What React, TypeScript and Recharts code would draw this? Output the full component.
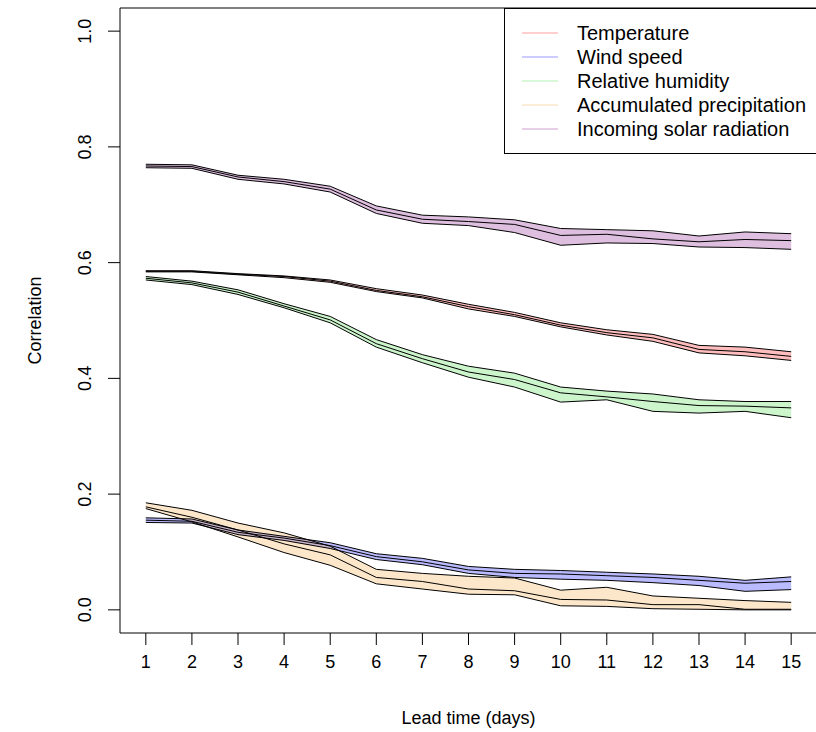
import React from 'react';
import { ComposedChart, Area, Line, XAxis, YAxis, ReferenceArea } from 'recharts';

// lead time in days
const leadTimes = [1, 2, 3, 4, 5, 6, 7, 8, 9, 10, 11, 12, 13, 14, 15];

// correlation bands: lower edge, middle line, upper edge
const tempLower = [0.584, 0.584, 0.579, 0.574, 0.566, 0.550, 0.539, 0.520, 0.507, 0.489, 0.475, 0.464, 0.444, 0.439, 0.431];
const tempMid = [0.585, 0.585, 0.580, 0.576, 0.568, 0.552, 0.541, 0.524, 0.510, 0.492, 0.479, 0.470, 0.450, 0.446, 0.438];
const tempUpper = [0.586, 0.586, 0.581, 0.577, 0.570, 0.555, 0.544, 0.528, 0.514, 0.496, 0.484, 0.476, 0.457, 0.454, 0.446];

const windLower = [0.151, 0.150, 0.130, 0.120, 0.106, 0.087, 0.078, 0.063, 0.056, 0.053, 0.051, 0.047, 0.042, 0.032, 0.035];
const windMid = [0.155, 0.153, 0.134, 0.124, 0.111, 0.092, 0.083, 0.069, 0.063, 0.062, 0.059, 0.056, 0.051, 0.046, 0.049];
const windUpper = [0.159, 0.157, 0.138, 0.127, 0.116, 0.097, 0.089, 0.075, 0.070, 0.068, 0.065, 0.062, 0.058, 0.051, 0.057];

const humLower = [0.570, 0.562, 0.545, 0.522, 0.496, 0.454, 0.427, 0.402, 0.385, 0.359, 0.363, 0.343, 0.340, 0.343, 0.332];
const humMid = [0.573, 0.565, 0.549, 0.525, 0.501, 0.460, 0.434, 0.411, 0.398, 0.375, 0.368, 0.360, 0.353, 0.352, 0.349];
const humUpper = [0.576, 0.568, 0.553, 0.529, 0.507, 0.467, 0.441, 0.421, 0.409, 0.385, 0.378, 0.373, 0.363, 0.360, 0.360];

const precLower = [0.175, 0.152, 0.126, 0.099, 0.077, 0.045, 0.036, 0.027, 0.026, 0.007, 0.006, 0.002, 0.001, 0.000, 0.000];
const precMid = [0.178, 0.160, 0.138, 0.114, 0.095, 0.056, 0.049, 0.036, 0.033, 0.018, 0.017, 0.009, 0.009, 0.001, 0.001];
const precUpper = [0.185, 0.172, 0.150, 0.133, 0.110, 0.070, 0.063, 0.058, 0.055, 0.034, 0.039, 0.024, 0.020, 0.016, 0.013];

const solarLower = [0.764, 0.763, 0.744, 0.736, 0.722, 0.685, 0.668, 0.664, 0.652, 0.630, 0.634, 0.633, 0.627, 0.626, 0.623];
const solarMid = [0.767, 0.766, 0.748, 0.740, 0.727, 0.691, 0.675, 0.671, 0.666, 0.647, 0.649, 0.641, 0.636, 0.640, 0.638];
const solarUpper = [0.770, 0.769, 0.751, 0.744, 0.732, 0.698, 0.682, 0.679, 0.674, 0.659, 0.657, 0.655, 0.646, 0.653, 0.650];

const yTicks = [0, 0.2, 0.4, 0.6, 0.8, 1.0];

const series = [
  { key: 'temp', name: 'Temperature', color: '#ff0000', opacity: 0.26, lower: tempLower, mid: tempMid, upper: tempUpper },
  { key: 'wind', name: 'Wind speed', color: '#0000ff', opacity: 0.27, lower: windLower, mid: windMid, upper: windUpper },
  { key: 'hum', name: 'Relative humidity', color: '#00cc00', opacity: 0.2, lower: humLower, mid: humMid, upper: humUpper },
  { key: 'prec', name: 'Accumulated precipitation', color: '#f5a030', opacity: 0.25, lower: precLower, mid: precMid, upper: precUpper },
  { key: 'solar', name: 'Incoming solar radiation', color: '#800080', opacity: 0.25, lower: solarLower, mid: solarMid, upper: solarUpper },
];

const rows = leadTimes.map((t, i) => {
  const row: Record<string, number> = { lead: t };
  series.forEach((s) => {
    row[s.key + 'Lo'] = s.lower[i];
    row[s.key + 'Mid'] = s.mid[i];
    row[s.key + 'Hi'] = s.upper[i];
  });
  return row;
});

const FONT = '"Liberation Sans", Arial, Helvetica, sans-serif';

const rgba = (hex: string, a: number) => {
  const r = parseInt(hex.slice(1, 3), 16);
  const g = parseInt(hex.slice(3, 5), 16);
  const b = parseInt(hex.slice(5, 7), 16);
  return `rgba(${r},${g},${b},${a})`;
};

const YTick = (props: any) => {
  const { x, y, payload } = props;
  return (
    <text x={x} y={y} transform={`rotate(-90 ${x} ${y})`} textAnchor="middle" fontSize={18} fill="#000" fontFamily={FONT}>
      {Number(payload.value).toFixed(1)}
    </text>
  );
};

// legend drawn in its own box over the top right corner of the plot
const LegendBox = () => (
  <svg width={313} height={147} style={{ position: 'absolute', left: 504, top: 8, display: 'block' }}>
    <rect x={0.5} y={0.5} width={330} height={145} fill="#fff" stroke="#000" strokeWidth={1} />
    {series.map((s, i) => {
      const cy = 25 + i * 24;
      return (
        <g key={s.key}>
          <line x1={18} x2={54} y1={cy} y2={cy} stroke={rgba(s.color, s.opacity)} strokeWidth={1.5} />
          <text x={73} y={cy + 7} fontSize={20} fontFamily={FONT} fill="#000">{s.name}</text>
        </g>
      );
    })}
  </svg>
);

const App = () => {
  return (
    <div style={{ position: 'absolute', left: 0, top: 0, width: 816, height: 732, background: '#fff' }}>
      <ComposedChart width={816} height={732} data={rows} margin={{ top: 8, right: -1, bottom: 0, left: 0 }}>
        <XAxis
          dataKey="lead"
          type="number"
          domain={[0.44, 15.56]}
          ticks={leadTimes}
          interval={0}
          allowDataOverflow
          height={99}
          axisLine={false}
          tickSize={12}
          tickMargin={10}
          tickLine={{ stroke: '#000' }}
          tick={{ fontSize: 18, fill: '#000', fontFamily: FONT }}
          label={{
            content: (p: any) => {
              const vb = p.viewBox;
              return (
                <text x={vb.x + vb.width / 2} y={vb.y + 91} textAnchor="middle" fontSize={18} fontFamily={FONT} fill="#000">
                  Lead time (days)
                </text>
              );
            },
          }}
        />
        <YAxis
          type="number"
          domain={[-0.04, 1.04]}
          ticks={yTicks}
          allowDataOverflow
          width={120}
          axisLine={false}
          tickSize={12}
          tickMargin={17}
          tickLine={{ stroke: '#000' }}
          tick={YTick}
          label={{
            content: (p: any) => {
              const vb = p.viewBox;
              const lx = vb.x + 41;
              const ly = vb.y + vb.height / 2;
              return (
                <text x={lx} y={ly} transform={`rotate(-90 ${lx} ${ly})`} textAnchor="middle" fontSize={18} fontFamily={FONT} fill="#000">
                  Correlation
                </text>
              );
            },
          }}
        />
        {series.map((s) => [
          <Area
            key={s.key + 'band'}
            dataKey={(d: any) => [d[s.key + 'Lo'], d[s.key + 'Hi']]}
            fill={s.color}
            fillOpacity={s.opacity}
            stroke="none"
            isAnimationActive={false}
            legendType="none"
          />,
          <Line key={s.key + 'lo'} dataKey={s.key + 'Lo'} stroke="#000" strokeWidth={1} dot={false} isAnimationActive={false} legendType="none" />,
          <Line key={s.key + 'mid'} dataKey={s.key + 'Mid'} stroke="#000" strokeWidth={1} dot={false} isAnimationActive={false} legendType="none" />,
          <Line key={s.key + 'hi'} dataKey={s.key + 'Hi'} stroke="#000" strokeWidth={1} dot={false} isAnimationActive={false} legendType="none" />,
        ])}
        <ReferenceArea x1={0.44} x2={15.56} y1={-0.04} y2={1.04} fill="none" stroke="#000" strokeWidth={1} />
      </ComposedChart>
      <LegendBox />
    </div>
  );
};

export default App;
